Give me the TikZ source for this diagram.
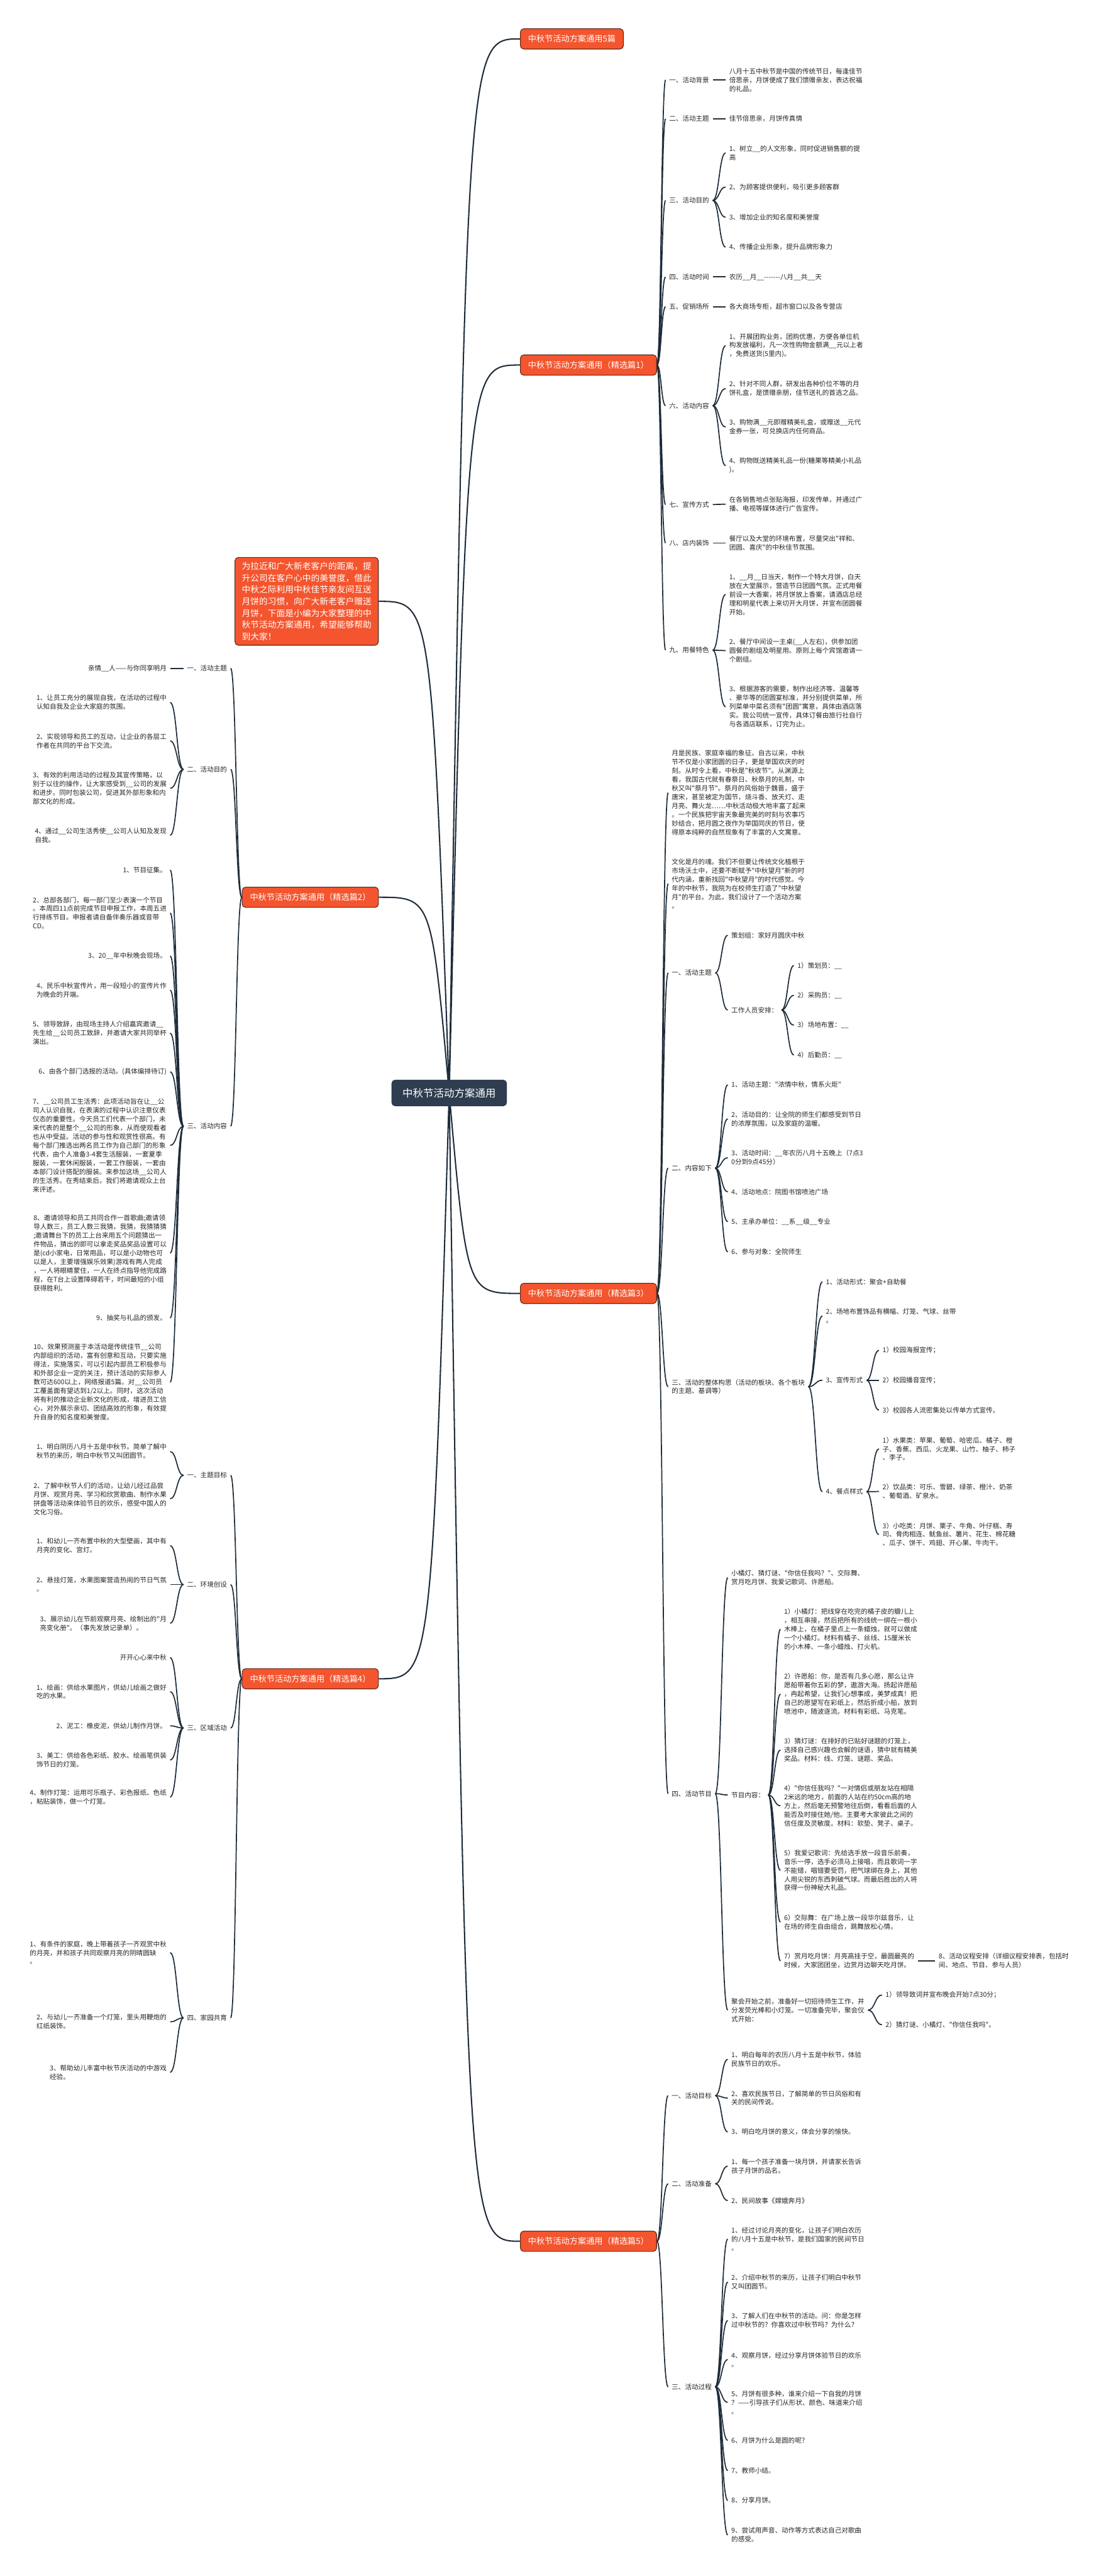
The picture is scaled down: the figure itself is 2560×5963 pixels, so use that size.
\documentclass[tikz,border=0pt]{standalone}
\usepackage{fontspec}
\newfontfamily\cjk{Noto Sans CJK SC}
\usetikzlibrary{calc}
\definecolor{secred}{HTML}{F4552E}
\definecolor{secbd}{HTML}{5A2A1A}
\definecolor{rootc}{HTML}{2E3D4F}
\definecolor{linec}{HTML}{1E2C3A}
\definecolor{txtc}{HTML}{262626}
\pgfdeclarelayer{bg}
\pgfdeclarelayer{paper}
\pgfsetlayers{paper,bg,main}
\begin{document}
\begin{tikzpicture}[x=0.5pt,y=-0.5pt,
  txt/.style={font=\cjk\fontsize{7.7}{10.15}\selectfont, align=left, inner xsep=4pt, inner ysep=1pt, text=txtc},
  R/.style={txt, anchor=west},
  L/.style={txt, anchor=east},
  sec/.style={fill=secred, draw=secbd, line width=0.8pt, rounded corners=4pt, text=white,
    font=\cjk\fontsize{9.6}{12}\selectfont, inner xsep=9pt, minimum height=23.5pt},
  rootn/.style={fill=rootc, rounded corners=4pt, text=white, font=\cjk\fontsize{12}{14}\selectfont,
    minimum width=133.5pt, minimum height=30.5pt},
  intro/.style={fill=secred, draw=secbd, line width=0.8pt, rounded corners=4pt, text=white,
    font=\cjk\fontsize{10}{13.5}\selectfont, align=left, inner xsep=8pt, inner ysep=5.7pt},
  link/.style={line width=1.25pt, draw=linec, to path={let \p1=(\tikztostart), \p2=(\tikztotarget) in
    .. controls ({(\x1+\x2)/2},\y1) and ({(\x1+\x2)/2},\y2) .. (\tikztotarget)}},
  mainlink/.style={line width=1.5pt, draw=linec, to path={let \p1=(\tikztostart), \p2=(\tikztotarget) in
    .. controls ({\x1+0.25*(\x2-\x1)},\y2) .. (\tikztotarget)}}
]
\useasboundingbox (0,0) rectangle (2560,5963);
\begin{pgfonlayer}{paper}
\fill[white] (0,0) rectangle (2560,5963);
\end{pgfonlayer}

% ---------- root ----------
\node[rootn] (root) at (1040,2530) {中秋节活动方案通用};

% ---------- section 0 ----------
\node[sec,anchor=west] (s0) at (1204,90) {中秋节活动方案通用5篇};

% ---------- section 1 ----------
\node[sec,anchor=west] (s1) at (1204,845) {中秋节活动方案通用（精选篇1）};
\node[R] (a1) at (1541,185) {一、活动背景};
\node[R] (a1x) at (1680,185) {八月十五中秋节是中国的传统节日，每逢佳节\\倍思亲，月饼便成了我们馈赠亲友，表达祝福\\的礼品。};
\node[R] (a2) at (1541,275) {二、活动主题};
\node[R] (a2x) at (1680,275) {佳节倍思亲，月饼传真情};
\node[R] (a3) at (1541,464) {三、活动目的};
\node[R] (a3x1) at (1680,354) {1、树立\_\_的人文形象，同时促进销售额的提\\高};
\node[R] (a3x2) at (1680,433) {2、为顾客提供便利，吸引更多顾客群};
\node[R] (a3x3) at (1680,503) {3、增加企业的知名度和美誉度};
\node[R] (a3x4) at (1680,572) {4、传播企业形象，提升品牌形象力};
\node[R] (a4) at (1541,641) {四、活动时间};
\node[R] (a4x) at (1680,641) {农历\_\_月\_\_-------八月\_\_共\_\_天};
\node[R] (a5) at (1541,710) {五、促销场所};
\node[R] (a5x) at (1680,710) {各大商场专柜，超市窗口以及各专营店};
\node[R] (a6) at (1541,939) {六、活动内容};
\node[R] (a6x1) at (1680,800) {1、开展团购业务，团购优惠，方便各单位机\\构发放福利，凡一次性购物金额满\_\_元以上者\\，免费送货(5里内)。};
\node[R] (a6x2) at (1680,899.5) {2、针对不同人群，研发出各种价位不等的月\\饼礼盒，是馈赠亲朋，佳节送礼的首选之品。};
\node[R] (a6x3) at (1680,988.5) {3、购物满\_\_元即赠精美礼盒，或赠送\_\_元代\\金券一张，可兑换店内任何商品。};
\node[R] (a6x4) at (1680,1078) {4、购物既送精美礼品一份(糖果等精美小礼品\\)。};
\node[R] (a7) at (1541,1168) {七、宣传方式};
\node[R] (a7x) at (1680,1167) {在各销售地点张贴海报，印发传单，并通过广\\播、电视等媒体进行广告宣传。};
\node[R] (a8) at (1541,1257) {八、店内装饰};
\node[R] (a8x) at (1680,1257) {餐厅以及大堂的环境布置，尽量突出"祥和、\\团圆、喜庆"的中秋佳节氛围。};
\node[R] (a9) at (1541,1505) {九、用餐特色};
\node[R] (a9x1) at (1680,1376) {1、\_\_月\_\_日当天，制作一个特大月饼，白天\\放在大堂展示，营造节日团圆气氛。正式用餐\\前设一大香案，将月饼放上香案，请酒店总经\\理和明星代表上来切开大月饼，并宣布团圆餐\\开始。};
\node[R] (a9x2) at (1680,1506) {2、餐厅中间设一主桌(\_\_人左右)，供参加团\\圆餐的剧组及明星用。原则上每个宾馆邀请一\\个剧组。};
\node[R] (a9x3) at (1680,1636) {3、根据游客的需要，制作出经济等、温馨等\\、豪华等的团圆宴标准，并分别提供菜单，所\\列菜单中菜名须有"团圆"寓意，具体由酒店落\\实。我公司统一宣传，具体订餐由旅行社自行\\与各酒店联系，订完为止。};

% ---------- section 3 ----------
\node[sec,anchor=west] (s3) at (1204,2994) {中秋节活动方案通用（精选篇3）};
\node[R] (c0) at (1547,1835) {月是民族、家庭幸福的象征。自古以来，中秋\\节不仅是小家团圆的日子，更是举国欢庆的时\\刻。从时令上看，中秋是"秋收节"。从渊源上\\看，我国古代就有春祭日、秋祭月的礼制，中\\秋又叫"祭月节"。祭月的风俗始于魏晋，盛于\\唐宋，甚至被定为国节，烧斗香、放天灯、走\\月亮、舞火龙……中秋活动极大地丰富了起来\\。一个民族把宇宙天象最完美的时刻与农事巧\\妙结合，把月圆之夜作为举国同庆的节日，使\\得原本纯粹的自然现象有了丰富的人文寓意。};
\node[R] (c00) at (1547,2045.5) {文化是月的魂。我们不但要让传统文化植根于\\市场沃土中，还要不断赋予"中秋望月"新的时\\代内涵，重新找回"中秋望月"的时代感觉。今\\年的中秋节，我院为在校师生打造了"中秋望\\月"的平台。为此，我们设计了一个活动方案\\。};
\node[R] (c1) at (1547,2252) {一、活动主题};
\node[R] (c1a) at (1685,2165) {策划组：家好月圆庆中秋};
\node[R] (c1b) at (1685,2338) {工作人员安排：};
\node[R] (c1b1) at (1838,2235) {1）策划员：\_\_};
\node[R] (c1b2) at (1838,2304) {2）采购员：\_\_};
\node[R] (c1b3) at (1838,2373) {3）场地布置：\_\_};
\node[R] (c1b4) at (1838,2442) {4）后勤员：\_\_};
\node[R] (c2) at (1547,2704) {二、内容如下};
\node[R] (c2a) at (1685,2511) {1、活动主题："浓情中秋，情系火炬"};
\node[R] (c2b) at (1685,2590) {2、活动目的：让全院的师生们都感受到节日\\的浓厚氛围，以及家庭的温暖。};
\node[R] (c2c) at (1685,2680) {3、活动时间：\_\_年农历八月十五晚上（7点3\\0分到9点45分）};
\node[R] (c2d) at (1685,2759) {4、活动地点：院图书馆喷池广场};
\node[R] (c2e) at (1685,2828) {5、主承办单位：\_\_系\_\_级\_\_专业};
\node[R] (c2f) at (1685,2898) {6、参与对象：全院师生};
\node[R] (c3) at (1547,3210) {三、活动的整体构思（活动的板块、各个板块\\的主题、基调等）};
\node[R] (c3a) at (1904,2967) {1、活动形式：聚会+自助餐};
\node[R] (c3b) at (1904,3046) {2、场地布置饰品有横幅、灯笼、气球、丝带\\。};
\node[R] (c3c) at (1904,3195) {3、宣传形式};
\node[R] (c3c1) at (2035,3126) {1）校园海报宣传；};
\node[R] (c3c2) at (2035,3195) {2）校园播音宣传；};
\node[R] (c3c3) at (2035,3264) {3）校园各人流密集处以传单方式宣传。};
\node[R] (c3d) at (1904,3453) {4、餐点样式};
\node[R] (c3d1) at (2035,3354) {1）水果类：苹果、葡萄、哈密瓜、橘子、橙\\子、香蕉、西瓜、火龙果、山竹、柚子、柿子\\、李子。};
\node[R] (c3d2) at (2035,3452.5) {2）饮品类：可乐、雪碧、绿茶、橙汁、奶茶\\、葡萄酒、矿泉水。};
\node[R] (c3d3) at (2035,3552) {3）小吃类：月饼、栗子、牛角、叶仔糕、寿\\司、骨肉相连、鱿鱼丝、薯片、花生、棉花糖\\、瓜子、饼干、鸡翅、开心果、牛肉干。};
\node[R] (c4) at (1547,4152) {四、活动节目};
\node[R] (c4a) at (1685,3652) {小橘灯、猜灯谜、"你信任我吗？"、交际舞、\\赏月吃月饼、我爱记歌词、许愿船。};
\node[R] (c4b) at (1685,4155) {节目内容：};
\node[R] (c4b1) at (1807,3771.5) {1）小橘灯：把线穿在吃完的橘子皮的瓣儿上\\，相互串接，然后把所有的线统一绑在一根小\\木棒上，在橘子里点上一条蜡烛，就可以做成\\一个小橘灯。材料有橘子、丝线、15厘米长\\的小木棒、一条小蜡烛、打火机。};
\node[R] (c4b2) at (1807,3921.5) {2）许愿船：你，是否有几多心愿，那么让许\\愿船带着你五彩的梦，遨游大海。扬起许愿船\\，冉起希望，让我们心想事成，美梦成真！把\\自己的愿望写在彩纸上，然后折成小船，放到\\喷池中，随波逐流。材料有彩纸、马克笔。};
\node[R] (c4b3) at (1807,4051) {3）猜灯谜：在排好的已贴好谜题的灯笼上，\\选择自己感兴趣也会解的谜语，猜中就有精美\\奖品。材料：线、灯笼、谜题、奖品。};
\node[R] (c4b4) at (1807,4180) {4）"你信任我吗？"一对情侣或朋友站在相隔\\2米远的地方，前面的人站在约50cm高的地\\方上，然后毫无预警地往后倒，看看后面的人\\能否及时接住她/他。主要考大家彼此之间的\\信任度及灵敏度。材料：软垫、凳子、桌子。};
\node[R] (c4b5) at (1807,4329.5) {5）我爱记歌词：先给选手放一段音乐前奏，\\音乐一停，选手必须马上接唱，而且歌词一字\\不能错，唱错要受罚，把气球绑在身上，其他\\人用尖锐的东西刺破气球。而最后胜出的人将\\获得一份神秘大礼品。};
\node[R] (c4b6) at (1807,4449) {6）交际舞：在广场上放一段华尔兹音乐，让\\在场的师生自由组合，跳舞放松心情。};
\node[R] (c4b7) at (1807,4539) {7）赏月吃月饼：月亮高挂于空，最圆最亮的\\时候，大家团团坐，边赏月边聊天吃月饼。};
\node[R] (c4b8) at (2165,4539) {8、活动议程安排（详细议程安排表，包括时\\间、地点、节目、参与人员）};
\node[R] (c4c) at (1685,4653) {聚会开始之前，准备好一切招待师生工作，并\\分发荧光棒和小灯笼。一切准备完毕，聚会仪\\式开始：};
\node[R] (c4c1) at (2042,4618) {1）领导致词并宣布晚会开始7点30分；};
\node[R] (c4c2) at (2042,4687) {2）猜灯谜、小橘灯、"你信任我吗"。};

% ---------- section 5 ----------
\node[sec,anchor=west] (s5) at (1204,5188) {中秋节活动方案通用（精选篇5）};
\node[R] (e1) at (1547,4851) {一、活动目标};
\node[R] (e1a) at (1685,4767) {1、明白每年的农历八月十五是中秋节，体验\\民族节日的欢乐。};
\node[R] (e1b) at (1685,4856.5) {2、喜欢民族节日，了解简单的节日风俗和有\\关的民间传说。};
\node[R] (e1c) at (1685,4935) {3、明白吃月饼的意义，体会分享的愉快。};
\node[R] (e2) at (1547,5055) {二、活动准备};
\node[R] (e2a) at (1685,5014) {1、每一个孩子准备一块月饼，并请家长告诉\\孩子月饼的品名。};
\node[R] (e2b) at (1685,5094) {2、民间故事《嫦娥奔月》};
\node[R] (e3) at (1547,5525) {三、活动过程};
\node[R] (e3a) at (1685,5183) {1、经过讨论月亮的变化，让孩子们明白农历\\的八月十五是中秋节，是我们国家的民间节日\\。};
\node[R] (e3b) at (1685,5282.5) {2、介绍中秋节的来历，让孩子们明白中秋节\\又叫团圆节。};
\node[R] (e3c) at (1685,5371.5) {3、了解人们在中秋节的活动。问：你是怎样\\过中秋节的？你喜欢过中秋节吗？为什么？};
\node[R] (e3d) at (1685,5462) {4、观察月饼，经过分享月饼体验节日的欢乐\\。};
\node[R] (e3e) at (1685,5561) {5、月饼有很多种，谁来介绍一下自我的月饼\\？——引导孩子们从形状、颜色、味道来介绍\\。};
\node[R] (e3f) at (1685,5649) {6、月饼为什么是圆的呢？};
\node[R] (e3g) at (1685,5719) {7、教师小结。};
\node[R] (e3h) at (1685,5788) {8、分享月饼。};
\node[R] (e3i) at (1685,5868) {9、尝试用声音、动作等方式表达自己对歌曲\\的感受。};

% ---------- intro ----------
\node[intro] (intro) at (710,1392) {为拉近和广大新老客户的距离，提\\升公司在客户心中的美誉度，借此\\中秋之际利用中秋佳节亲友间互送\\月饼的习惯，向广大新老客户赠送\\月饼，下面是小编为大家整理的中\\秋节活动方案通用，希望能够帮助\\到大家！};

% ---------- section 2 ----------
\node[sec,anchor=east] (s2) at (877,2077) {中秋节活动方案通用（精选篇2）};
\node[L] (b1) at (534,1547) {一、活动主题};
\node[L] (b1x) at (394,1547) {亲情\_\_人——与你同享明月};
\node[L] (b2) at (534,1781) {二、活动目的};
\node[L] (b2a) at (394,1626) {1、让员工充分的展现自我，在活动的过程中\\认知自我及企业大家庭的氛围。};
\node[L] (b2b) at (394,1715) {2、实现领导和员工的互动，让企业的各层工\\作者在共同的平台下交流。};
\node[L] (b2c) at (394,1825) {3、有效的利用活动的过程及其宣传策略，以\\别于以往的操作，让大家感受到\_\_公司的发展\\和进步。同时包装公司，促进其外部形象和内\\部文化的形成。};
\node[L] (b2d) at (394,1933.5) {4、通过\_\_公司生活秀使\_\_公司人认知及发现\\自我。};
\node[L] (b3) at (534,2607) {三、活动内容};
\node[L] (b3a) at (394,2014) {1、节目征集。};
\node[L] (b3b) at (394,2113.5) {2、总部各部门，每一部门至少表演一个节目\\。本周四11点前完成节目申报工作，本周五进\\行排练节目。申报者请自备伴奏乐器或音带\\CD。};
\node[L] (b3c) at (394,2213) {3、20\_\_年中秋晚会现场。};
\node[L] (b3d) at (394,2292) {4、民乐中秋宣传片，用一段短小的宣传片作\\为晚会的开端。};
\node[L] (b3e) at (394,2391.5) {5、领导致辞，由现场主持人介绍嘉宾邀请\_\_\\先生给\_\_公司员工致辞，并邀请大家共同举杯\\演出。};
\node[L] (b3f) at (394,2481) {6、由各个部门选报的活动。(具体编排待订)};
\node[L] (b3g) at (394,2651.5) {7、\_\_公司员工生活秀：此项活动旨在让\_\_公\\司人认识自我，在表演的过程中认识注意仪表\\仪态的重要性。今天员工们代表一个部门，未\\来代表的是整个\_\_公司的形象，从而使观看者\\也从中受益。活动的参与性和观赏性很高。有\\每个部门推选出两名员工作为自己部门的形象\\代表，由个人准备3-4套生活服装，一套夏季\\服装，一套休闲服装，一套工作服装，一套由\\本部门设计搭配的服装。来参加这场\_\_公司人\\的生活秀。在秀结束后，我们将邀请观众上台\\来评述。};
\node[L] (b3h) at (394,2900.5) {8、邀请领导和员工共同合作一首歌曲;邀请领\\导人数三，员工人数三我猜，我猜，我猜猜猜\\;邀请舞台下的员工上台来用五个问题猜出一\\件物品，猜出的即可以拿走奖品奖品设置可以\\是(cd小家电，日常用品，可以是小动物也可\\以是人，主要增强娱乐效果)游戏有两人完成\\，一人将眼睛蒙住，一人在终点指导他完成路\\程，在T台上设置障碍若干，时间最短的小组\\获得胜利。};
\node[L] (b3i) at (394,3051) {9、抽奖与礼品的颁发。};
\node[L] (b3j) at (394,3199.5) {10、效果预测鉴于本活动是传统佳节\_\_公司\\内部组织的活动，富有创意和互动，只要实施\\得法，实施落实，可以引起内部员工积极参与\\和外部企业一定的关注，预计活动的实际参人\\数可达600以上，网络报道5篇。对\_\_公司员\\工覆盖面有望达到1/2以上。同时，这次活动\\将有利的推动企业新文化的形成，增进员工信\\心，对外展示亲切、团结高效的形象，有效提\\升自身的知名度和美誉度。};

% ---------- section 4 ----------
\node[sec,anchor=east] (s4) at (877,3886) {中秋节活动方案通用（精选篇4）};
\node[L] (d1) at (534,3415) {一、主题目标};
\node[L] (d1a) at (394,3360) {1、明白阴历八月十五是中秋节。简单了解中\\秋节的来历，明白中秋节又叫团圆节。};
\node[L] (d1b) at (394,3469.5) {2、了解中秋节人们的活动，让幼儿经过品尝\\月饼、观赏月亮、学习和欣赏歌曲、制作水果\\拼盘等活动来体验节日的欢乐，感受中国人的\\文化习俗。};
\node[L] (d2) at (534,3668) {二、环境创设};
\node[L] (d2a) at (394,3578) {1、和幼儿一齐布置中秋的大型壁画，其中有\\月亮的变化、宫灯。};
\node[L] (d2b) at (394,3668) {2、悬挂灯笼，水果图案营造热闹的节日气氛\\。};
\node[L] (d2c) at (394,3757.5) {3、展示幼儿在节前观察月亮、绘制出的"月\\亮变化册"。（事先发放记录单）。};
\node[L] (d3) at (534,4000) {三、区域活动};
\node[L] (d3a) at (394,3837) {开开心心来中秋};
\node[L] (d3b) at (394,3916) {1、绘画：供给水果图片，供幼儿绘画之做好\\吃的水果。};
\node[L] (d3c) at (394,3995) {2、泥工：橡皮泥，供幼儿制作月饼。};
\node[L] (d3d) at (394,4074) {3、美工：供给各色彩纸、胶水、绘画笔供装\\饰节日的灯笼。};
\node[L] (d3e) at (394,4160) {4、制作灯笼：运用可乐瓶子、彩色报纸、色纸\\，粘贴装饰，做一个灯笼。};
\node[L] (d4) at (534,4671) {四、家园共育};
\node[L] (d4a) at (394,4520) {1、有条件的家庭，晚上带着孩子一齐观赏中秋\\的月亮，并和孩子共同观察月亮的阴晴圆缺\\。};
\node[L] (d4b) at (394,4680) {2、与幼儿一齐准备一个灯笼，里头用鞭炮的\\红纸装饰。};
\node[L] (d4c) at (394,4797) {3、帮助幼儿丰富中秋节庆活动的中游戏\\经验。};

% ---------- connectors ----------
\begin{pgfonlayer}{bg}
\foreach \c in {s0,s1,s3,s5} \draw[mainlink] (root.center) to (\c.west);
\foreach \c in {s2,s4,intro} \draw[mainlink] (root.center) to (\c.east);
\foreach \p/\c in {s1/a1,s1/a2,s1/a3,s1/a4,s1/a5,s1/a6,s1/a7,s1/a8,s1/a9,
  a1/a1x,a2/a2x,a3/a3x1,a3/a3x2,a3/a3x3,a3/a3x4,a4/a4x,a5/a5x,
  a6/a6x1,a6/a6x2,a6/a6x3,a6/a6x4,a7/a7x,a8/a8x,a9/a9x1,a9/a9x2,a9/a9x3,
  s3/c0,s3/c00,s3/c1,s3/c2,s3/c3,s3/c4,
  c1/c1a,c1/c1b,c1b/c1b1,c1b/c1b2,c1b/c1b3,c1b/c1b4,
  c2/c2a,c2/c2b,c2/c2c,c2/c2d,c2/c2e,c2/c2f,
  c3/c3a,c3/c3b,c3/c3c,c3/c3d,c3c/c3c1,c3c/c3c2,c3c/c3c3,c3d/c3d1,c3d/c3d2,c3d/c3d3,
  c4/c4a,c4/c4b,c4/c4c,c4b/c4b1,c4b/c4b2,c4b/c4b3,c4b/c4b4,c4b/c4b5,c4b/c4b6,c4b/c4b7,
  c4b7/c4b8,c4c/c4c1,c4c/c4c2,
  s5/e1,s5/e2,s5/e3,e1/e1a,e1/e1b,e1/e1c,e2/e2a,e2/e2b,
  e3/e3a,e3/e3b,e3/e3c,e3/e3d,e3/e3e,e3/e3f,e3/e3g,e3/e3h,e3/e3i}
  \draw[link] (\p.east) to (\c.west);
\foreach \p/\c in {s2/b1,s2/b2,s2/b3,b1/b1x,b2/b2a,b2/b2b,b2/b2c,b2/b2d,
  b3/b3a,b3/b3b,b3/b3c,b3/b3d,b3/b3e,b3/b3f,b3/b3g,b3/b3h,b3/b3i,b3/b3j,
  s4/d1,s4/d2,s4/d3,s4/d4,d1/d1a,d1/d1b,d2/d2a,d2/d2b,d2/d2c,
  d3/d3a,d3/d3b,d3/d3c,d3/d3d,d3/d3e,d4/d4a,d4/d4b,d4/d4c}
  \draw[link] (\p.west) to (\c.east);
\end{pgfonlayer}
\end{tikzpicture}
\end{document}
